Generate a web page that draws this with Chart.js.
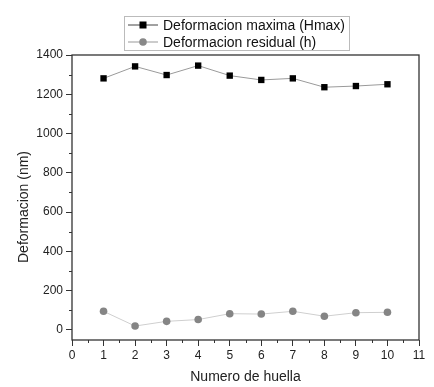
<!DOCTYPE html>
<html>
<head>
<meta charset="utf-8">
<script src="https://cdn.jsdelivr.net/npm/chart.js@4.4.1/dist/chart.umd.min.js"></script>
<style>
  html, body { margin: 0; padding: 0; background: #fff; }
  #wrap { width: 434px; height: 387px; }
</style>
</head>
<body>
<div id="wrap"><canvas id="myChart" width="434" height="387"></canvas></div>
<script>
// data
const huella = [1, 2, 3, 4, 5, 6, 7, 8, 9, 10];
const hmax = [1281, 1342, 1298, 1346, 1295, 1273, 1281, 1236, 1242, 1251];
const residual = [95, 20, 44, 53, 83, 81, 95, 70, 88, 90];
const yTicks = [0, 200, 400, 600, 800, 1000, 1200, 1400];
const xTicks = [0, 1, 2, 3, 4, 5, 6, 7, 8, 9, 10, 11];
const seriesNames = ["Deformacion maxima (Hmax)", "Deformacion residual (h)"];

const FONT = "'Liberation Sans', Arial, sans-serif";

// frame, minor ticks, axis titles and the boxed legend
const decor = {
  id: "decor",
  afterDraw(chart) {
    const ctx = chart.ctx;
    const a = chart.chartArea;
    const xs = chart.scales.x, ys = chart.scales.y;
    ctx.save();
    ctx.strokeStyle = "#333";
    ctx.lineWidth = 1.3;
    ctx.strokeRect(a.left, a.top, a.right - a.left, a.bottom - a.top);

    // minor ticks
    ctx.lineWidth = 1;
    ctx.beginPath();
    for (let v = 100; v < 1400; v += 200) {
      let py = Math.round(ys.getPixelForValue(v)) + 0.5;
      ctx.moveTo(a.left - 3, py); ctx.lineTo(a.left, py);
    }
    for (let v = 0.5; v < 11; v += 1) {
      let px = Math.round(xs.getPixelForValue(v)) + 0.5;
      ctx.moveTo(px, a.bottom); ctx.lineTo(px, a.bottom + 3);
    }
    ctx.stroke();

    // axis titles
    ctx.fillStyle = "#222";
    ctx.font = "14px " + FONT;
    ctx.textAlign = "center";
    ctx.textBaseline = "middle";
    ctx.fillText("Numero de huella", (a.left + a.right) / 2, 377);
    ctx.save();
    ctx.translate(24, 207);
    ctx.rotate(-Math.PI / 2);
    ctx.fillText("Deformacion (nm)", 0, 0);
    ctx.restore();

    // legend
    ctx.fillStyle = "#fff";
    ctx.fillRect(124, 16, 225, 34);
    ctx.strokeStyle = "#bbb";
    ctx.lineWidth = 1;
    ctx.strokeRect(124.5, 16.5, 225, 34);
    const rows = [
      { y: 25, line: "#444", mark: "#000", sq: true },
      { y: 42, line: "#999", mark: "#888", sq: false }
    ];
    ctx.font = "14px " + FONT;
    ctx.textAlign = "left";
    rows.forEach((r, i) => {
      ctx.strokeStyle = r.line;
      ctx.beginPath();
      ctx.moveTo(128, r.y); ctx.lineTo(158, r.y);
      ctx.stroke();
      ctx.fillStyle = r.mark;
      if (r.sq) {
        ctx.fillRect(139.5, r.y - 3.5, 7, 7);
      } else {
        ctx.beginPath();
        ctx.arc(143, r.y, 3.8, 0, Math.PI * 2);
        ctx.fill();
      }
      ctx.fillStyle = "#111";
      ctx.fillText(seriesNames[i], 163, r.y + 1);
    });
    ctx.restore();
  }
};

new Chart(document.getElementById("myChart").getContext("2d"), {
  type: "line",
  data: {
    datasets: [
      {
        label: seriesNames[0],
        data: huella.map((x, i) => ({ x: x, y: hmax[i] })),
        borderColor: "#9a9a9a",
        borderWidth: 1,
        pointStyle: "rect",
        pointRadius: 4.5,
        pointBackgroundColor: "#000",
        pointBorderColor: "#000",
        pointBorderWidth: 0,
        fill: false
      },
      {
        label: seriesNames[1],
        data: huella.map((x, i) => ({ x: x, y: residual[i] })),
        borderColor: "#cfcfcf",
        borderWidth: 1,
        pointStyle: "circle",
        pointRadius: 3.8,
        pointBackgroundColor: "#858585",
        pointBorderColor: "#858585",
        pointBorderWidth: 0,
        fill: false
      }
    ]
  },
  options: {
    responsive: false,
    animation: false,
    layout: { padding: { left: 0, top: 55, right: 15, bottom: 0 } },
    plugins: {
      legend: { display: false },
      tooltip: { enabled: false }
    },
    scales: {
      x: {
        type: "linear",
        min: 0,
        max: 11,
        afterBuildTicks: s => { s.ticks = xTicks.map(v => ({ value: v })); },
        afterFit: s => { s.height = 47; },
        border: { display: false },
        grid: { drawOnChartArea: false, tickLength: 6, color: "#333" },
        ticks: { padding: 2, color: "#222", font: { family: FONT, size: 12 }, maxRotation: 0,
                 callback: v => String(v) }
      },
      y: {
        min: -51,
        max: 1400,
        afterBuildTicks: s => { s.ticks = yTicks.map(v => ({ value: v })); },
        afterFit: s => { s.width = 72; },
        border: { display: false },
        grid: { drawOnChartArea: false, tickLength: 6, color: "#333" },
        ticks: { padding: 3, color: "#222", font: { family: FONT, size: 12 },
                 callback: v => String(v) }
      }
    }
  },
  plugins: [decor]
});
</script>
</body>
</html>
